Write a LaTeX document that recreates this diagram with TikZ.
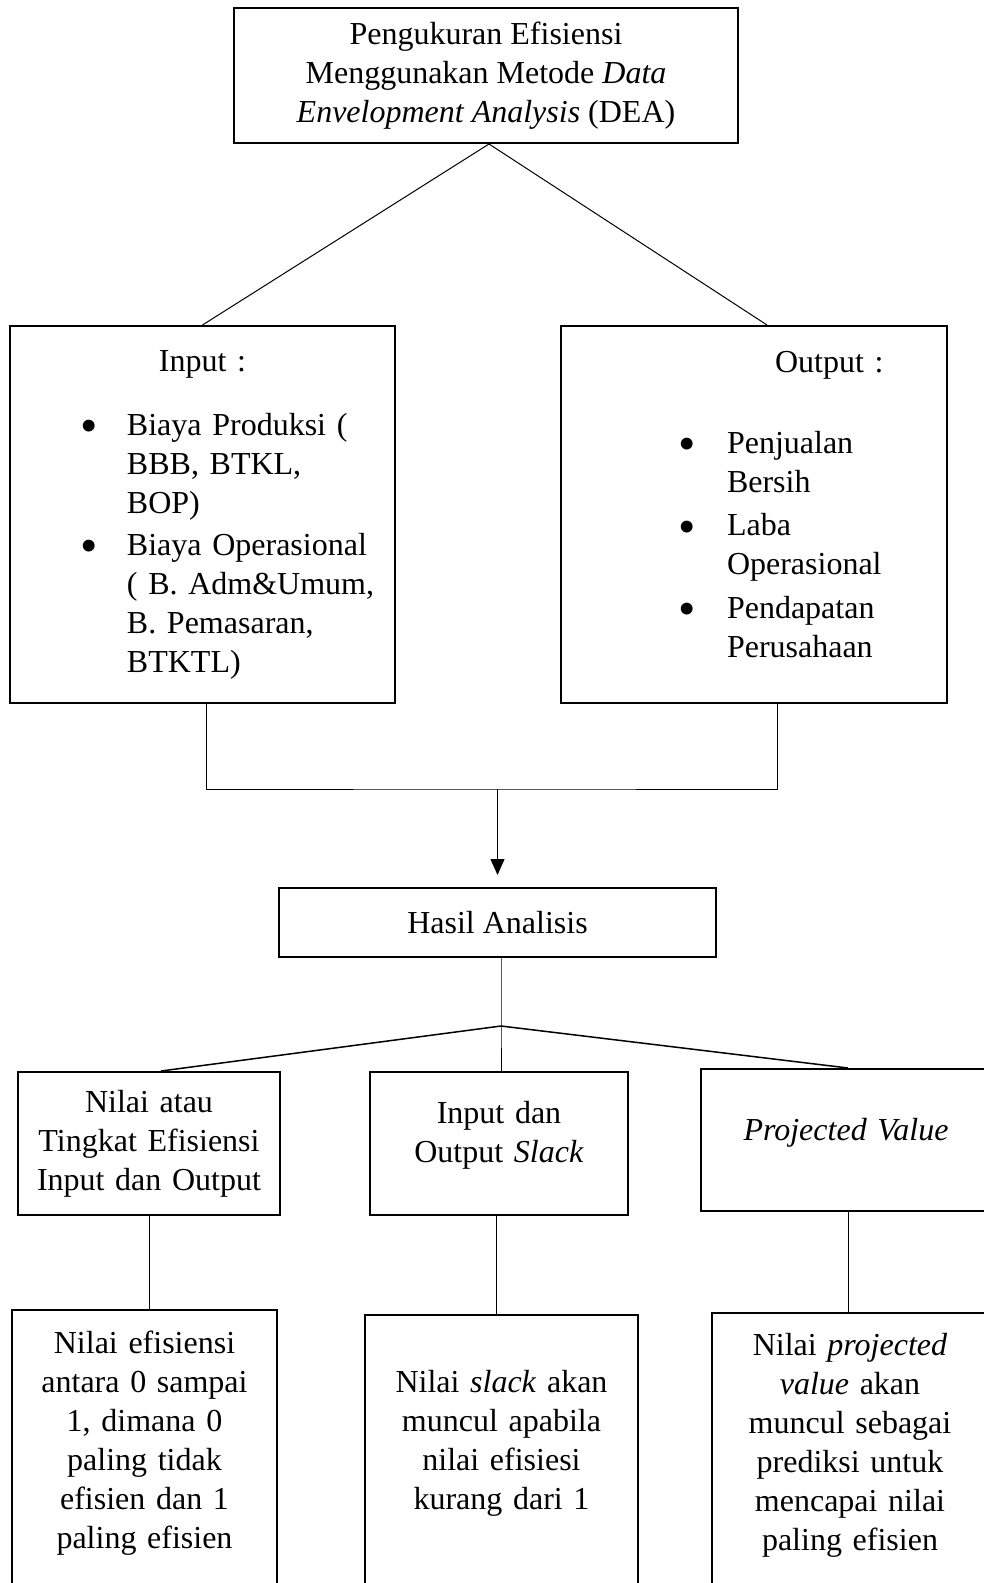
\documentclass[tikz,border=0pt]{standalone}
\usepackage{fontspec}
\setmainfont{Liberation Serif}
\usepackage{graphicx}
\usepackage{tikz}
\usetikzlibrary{arrows.meta,calc,positioning}
\newcommand{\bul}[1]{\makebox[#1][l]{\raisebox{-3.6pt}{\scalebox{1.55}{\textbullet}}}}
\newcommand{\lift}[1]{\par\vspace{#1}\hrule height 0pt depth 0pt width 0pt}
\tikzset{
  box/.style={draw=black, line width=1pt, align=center, inner sep=0pt,
    font=\fontsize{16}{19.5}\selectfont},
  listbox/.style={box, align=left},
  link/.style={draw=black, line width=0.5pt},
  forkline/.style={draw=black, line width=0.75pt},
  arr/.style={-{Triangle[length=8pt, width=7pt]}, line width=0.5pt, draw=black},
}

\begin{document}
\begin{tikzpicture}[x=0.5pt, y=-0.5pt]
\useasboundingbox (0,0) rectangle (984,1583);
\clip (0,0) rectangle (984,1583);

%% =====================================================================
%% Method
%% =====================================================================
\node[box, minimum width=252pt, minimum height=67.5pt] (dea) at (486,75.5) {Pengukuran Efisiensi\\Menggunakan Metode \textit{Data}\\\textit{Envelopment Analysis} (DEA)};

\node[listbox, text width=192.5pt, minimum height=188.5pt] (inp) at (202.5,514.5) {%
  \makebox[192.5pt]{Input :}\\[12.5pt]
  \hspace*{35.5pt}\bul{23pt}Biaya Produksi (\\
  \hspace*{58.5pt}BBB, BTKL,\\
  \hspace*{58.5pt}BOP)\\[1.5pt]
  \hspace*{35.5pt}\bul{23pt}Biaya Operasional\\
  \hspace*{58.5pt}( B. Adm\&Umum,\\
  \hspace*{58.5pt}B. Pemasaran,\\
  \hspace*{58.5pt}BTKTL)};

\node[listbox, text width=193pt, minimum height=188.5pt] (out) at (754,514.5) {%
  \hspace*{107pt}Output :\\[21pt]
  \hspace*{58.5pt}\bul{24.5pt}Penjualan\\
  \hspace*{83pt}Bersih\\[2.25pt]
  \hspace*{58.5pt}\bul{24.5pt}Laba\\
  \hspace*{83pt}Operasional\\[2.25pt]
  \hspace*{58.5pt}\bul{24.5pt}Pendapatan\\
  \hspace*{83pt}Perusahaan\lift{10pt}};

\draw[link] ([xshift=1.5pt]dea.south) -- (inp.north);
\draw[link] ([xshift=1.5pt]dea.south) -- ([xshift=6.5pt]out.north);

%% =====================================================================
%% Result
%% =====================================================================
\node[box, minimum width=218.5pt, minimum height=34.5pt] (hasil) at (497.5,922.5) {Hasil Analisis};

\coordinate (merge) at (497.5,789);
\draw[link] ([xshift=1.75pt]inp.south) |- (merge) -| ([xshift=11.5pt]out.south);
\draw[arr, shorten >=6pt] (merge) -- (hasil.north);

\node[box, text width=131pt, minimum height=71.5pt] (res1) at (149,1143.5) {Nilai atau\\Tingkat Efisiensi\\Input dan Output};
\node[box, text width=129pt, minimum height=71.5pt] (res2) at (499,1143.5) {Input dan\\Output \textit{Slack}\lift{8pt}};
\node[box, text width=145pt, minimum height=71pt] (res3) at (846,1140) {\textit{Projected Value}\lift{7pt}};

\coordinate (fork) at (501,1026);
\draw[link] ([xshift=1.75pt]hasil.south) -- (fork) -- ([xshift=1pt]res2.north);
\draw[forkline] (fork) -- ([xshift=6pt]res1.north);
\draw[forkline] (fork) -- ([xshift=1pt]res3.north);

%% =====================================================================
%% Explanation
%% =====================================================================
\node[box, text width=132.5pt, minimum height=140pt] (det1) at (144.5,1450) {Nilai efisiensi\\antara 0 sampai\\1, dimana 0\\paling tidak\\efisien dan 1\\paling efisien\lift{7pt}};
\node[box, text width=136.5pt, minimum height=137.5pt] (det2) at (501.5,1452.5) {Nilai \textit{slack} akan\\muncul apabila\\nilai efisiesi\\kurang dari 1\lift{9pt}};
\node[box, text width=138pt, minimum height=138.5pt] (det3) at (850,1451.5) {Nilai \textit{projected}\\\textit{value} akan\\muncul sebagai\\prediksi untuk\\mencapai nilai\\paling efisien\lift{6pt}};

\draw[link] (res1.south) -- (res1.south |- det1.north);
\draw[link] ([xshift=-1.5pt]res2.south) -- ([xshift=-1.5pt]res2.south |- det2.north);
\draw[link] ([xshift=1pt]res3.south) -- ([xshift=1pt]res3.south |- det3.north);

\end{tikzpicture}
\end{document}
